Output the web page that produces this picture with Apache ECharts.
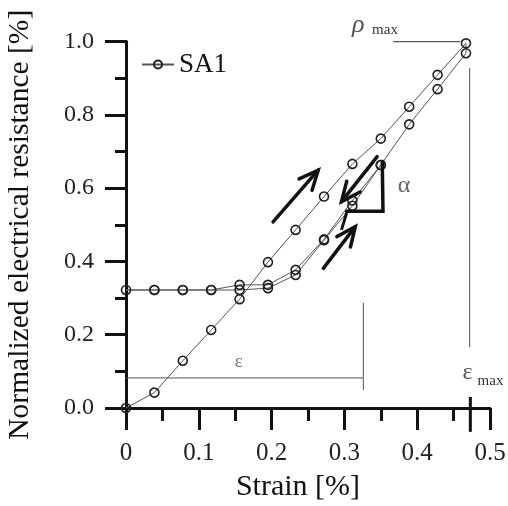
<!DOCTYPE html>
<html>
<head>
<meta charset="utf-8">
<title>SA1 resistance vs strain</title>
<script src="https://cdn.jsdelivr.net/npm/echarts@6/dist/echarts.min.js"></script>
<style>
  html, body { margin: 0; padding: 0; background: #fff; }
  #chart { width: 508px; height: 506px; }
</style>
</head>
<body>
<div id="chart"></div>
<script>
// Strain [%] and normalized resistance [%] for specimen SA1
const loadStrain   = [0, 0.039, 0.078, 0.117, 0.156, 0.195, 0.233, 0.272, 0.311, 0.350, 0.389, 0.428, 0.467];
const loadRes      = [0, 0.042, 0.129, 0.213, 0.297, 0.398, 0.486, 0.577, 0.666, 0.735, 0.822, 0.909, 0.995];
const unloadStrain = [0.467, 0.428, 0.389, 0.350, 0.311, 0.272, 0.233, 0.195, 0.156, 0.117, 0.078, 0.039, 0];
const unloadRes    = [0.968, 0.870, 0.774, 0.663, 0.552, 0.458, 0.363, 0.327, 0.322, 0.322, 0.322, 0.322, 0.322];
const reloadStrain = [0.039, 0.078, 0.117, 0.156, 0.195, 0.233, 0.272, 0.311, 0.350];
const reloadRes    = [0.322, 0.322, 0.322, 0.336, 0.336, 0.377, 0.460, 0.566, 0.663];

const seriesName = 'SA1';
const xAxisTitle = 'Strain [%]';
const yAxisTitle = 'Normalized electrical resistance [%]';

// one continuous path: loading, unloading, reloading
const path = [];
[[loadStrain, loadRes], [unloadStrain, unloadRes], [reloadStrain, reloadRes]].forEach(([xs, ys]) => {
  xs.forEach((x, i) => path.push([x, ys[i]]));
});

// annotation geometry in data units (strain, resistance)
const notes = {
  epsLine:    [[0, 0.082], [0.326, 0.082]],
  epsStop:    [[0.326, 0.287], [0.326, 0.049]],
  epsMaxLine: [[0.472, 0.928], [0.472, 0.166]],
  epsMaxTick: [[0.473, 0.030], [0.473, -0.065]],
  rhoMaxLine: [[0.367, 0.9995], [0.459, 0.9995]],
  arrows: [
    [[0.202, 0.508], [0.264, 0.649]],
    [[0.345, 0.686], [0.296, 0.563]],
    [[0.271, 0.381], [0.315, 0.495]]
  ],
  slope: [[0.301, 0.537], [0.353, 0.537], [0.352, 0.677]],
  slopeFoot: [[0.296, 0.486], [0.303, 0.532]]
};

const SERIF = '"Liberation Serif", "DejaVu Serif", serif';

function renderNotes(params, api) {
  const c = p => api.coord(p);
  const kids = [];
  const seg = (a, b, w, col) => kids.push({
    type: 'line',
    shape: { x1: c(a)[0], y1: c(a)[1], x2: c(b)[0], y2: c(b)[1] },
    style: { stroke: col || '#333', lineWidth: w }
  });
  seg(notes.epsLine[0], notes.epsLine[1], 1, '#555');
  seg(notes.epsStop[0], notes.epsStop[1], 1, '#555');
  seg(notes.epsMaxLine[0], notes.epsMaxLine[1], 1, '#555');
  seg(notes.epsMaxTick[0], notes.epsMaxTick[1], 3, '#111');
  seg(notes.rhoMaxLine[0], notes.rhoMaxLine[1], 1, '#333');

  notes.arrows.forEach(([tail, tip]) => {
    const a = c(tail), b = c(tip);
    const ang = Math.atan2(a[1] - b[1], a[0] - b[0]);
    const L = 21, h = 0.42;
    kids.push({
      type: 'line',
      shape: { x1: a[0], y1: a[1], x2: b[0], y2: b[1] },
      style: { stroke: '#111', lineWidth: 3.5, lineCap: 'round' }
    });
    kids.push({
      type: 'polyline',
      shape: { points: [
        [b[0] + L * Math.cos(ang + h), b[1] + L * Math.sin(ang + h)],
        b,
        [b[0] + L * Math.cos(ang - h), b[1] + L * Math.sin(ang - h)]
      ] },
      style: { stroke: '#111', lineWidth: 3.5, fill: null, lineJoin: 'miter', lineCap: 'round' }
    });
  });

  kids.push({
    type: 'polyline',
    shape: { points: notes.slope.map(c) },
    style: { stroke: '#111', lineWidth: 3.5, fill: null, lineJoin: 'miter' }
  });
  seg(notes.slopeFoot[0], notes.slopeFoot[1], 3, '#111');

  const txt = (p, s, font, fill, align) => {
    const q = c(p);
    kids.push({
      type: 'text',
      style: { x: q[0], y: q[1], text: s, font: font, fill: fill || '#444',
               align: align || 'center', verticalAlign: 'middle' }
    });
  };
  txt([0.319, 1.045], 'ρ', 'italic 26px ' + SERIF, '#555');
  txt([0.338, 1.030], 'max', '15px ' + SERIF, '#333', 'left');
  txt([0.469, 0.095], 'ε', '24px ' + SERIF, '#555');
  txt([0.483, 0.074], 'max', '15px ' + SERIF, '#333', 'left');
  txt([0.155, 0.126], 'ε', '19px ' + SERIF, '#777');
  txt([0.382, 0.606], 'α', '24px ' + SERIF, '#666');

  return { type: 'group', children: kids };
}

const chart = echarts.init(document.getElementById('chart'));
chart.setOption({
  animation: false,
  backgroundColor: '#fff',
  grid: { left: 126, right: 18, top: 41.5, bottom: 98, containLabel: false, outerBoundsMode: 'none' },
  legend: {
    data: [seriesName],
    left: 136, top: 46,
    itemWidth: 32, itemHeight: 10, itemGap: 4,
    textStyle: { fontFamily: SERIF, fontSize: 27, color: '#111' }
  },
  xAxis: {
    type: 'value', min: 0, max: 0.5, interval: 0.1,
    name: xAxisTitle, nameLocation: 'middle', nameGap: 64,
    nameTextStyle: { fontFamily: SERIF, fontSize: 30, color: '#111', padding: [0, 20, 0, 0] },
    axisLine: { lineStyle: { color: '#111', width: 3 } },
    axisTick: { length: 22, lineStyle: { color: '#111', width: 3 } },
    minorTick: { show: true, splitNumber: 2, length: 13, lineStyle: { color: '#111', width: 3 } },
    splitLine: { show: false },
    axisLabel: { fontFamily: SERIF, fontSize: 25, color: '#222', margin: 33,
                 formatter: v => (v === 0 ? '0' : String(+v.toFixed(1))) }
  },
  yAxis: {
    type: 'value', min: 0, max: 1, interval: 0.2,
    name: yAxisTitle, nameLocation: 'middle', nameGap: 91, nameRotate: 90,
    nameTextStyle: { fontFamily: SERIF, fontSize: 29.5, color: '#111' },
    axisLine: { lineStyle: { color: '#111', width: 3 } },
    axisTick: { length: 21, lineStyle: { color: '#111', width: 3 } },
    minorTick: { show: true, splitNumber: 2, length: 11, lineStyle: { color: '#111', width: 3 } },
    splitLine: { show: false },
    axisLabel: { fontFamily: SERIF, fontSize: 24, color: '#222', margin: 32,
                 formatter: v => v.toFixed(1) }
  },
  series: [
    {
      name: seriesName,
      type: 'line',
      data: path,
      symbol: 'circle',
      symbolSize: 9,
      showAllSymbol: true,
      lineStyle: { color: '#555', width: 1 },
      itemStyle: { color: 'rgba(0,0,0,0)', borderColor: '#222', borderWidth: 1.6 },
      z: 3
    },
    {
      name: 'notes',
      type: 'custom',
      data: [[0, 0]],
      renderItem: renderNotes,
      clip: false,
      silent: true,
      z: 4
    }
  ]
});
</script>
</body>
</html>
